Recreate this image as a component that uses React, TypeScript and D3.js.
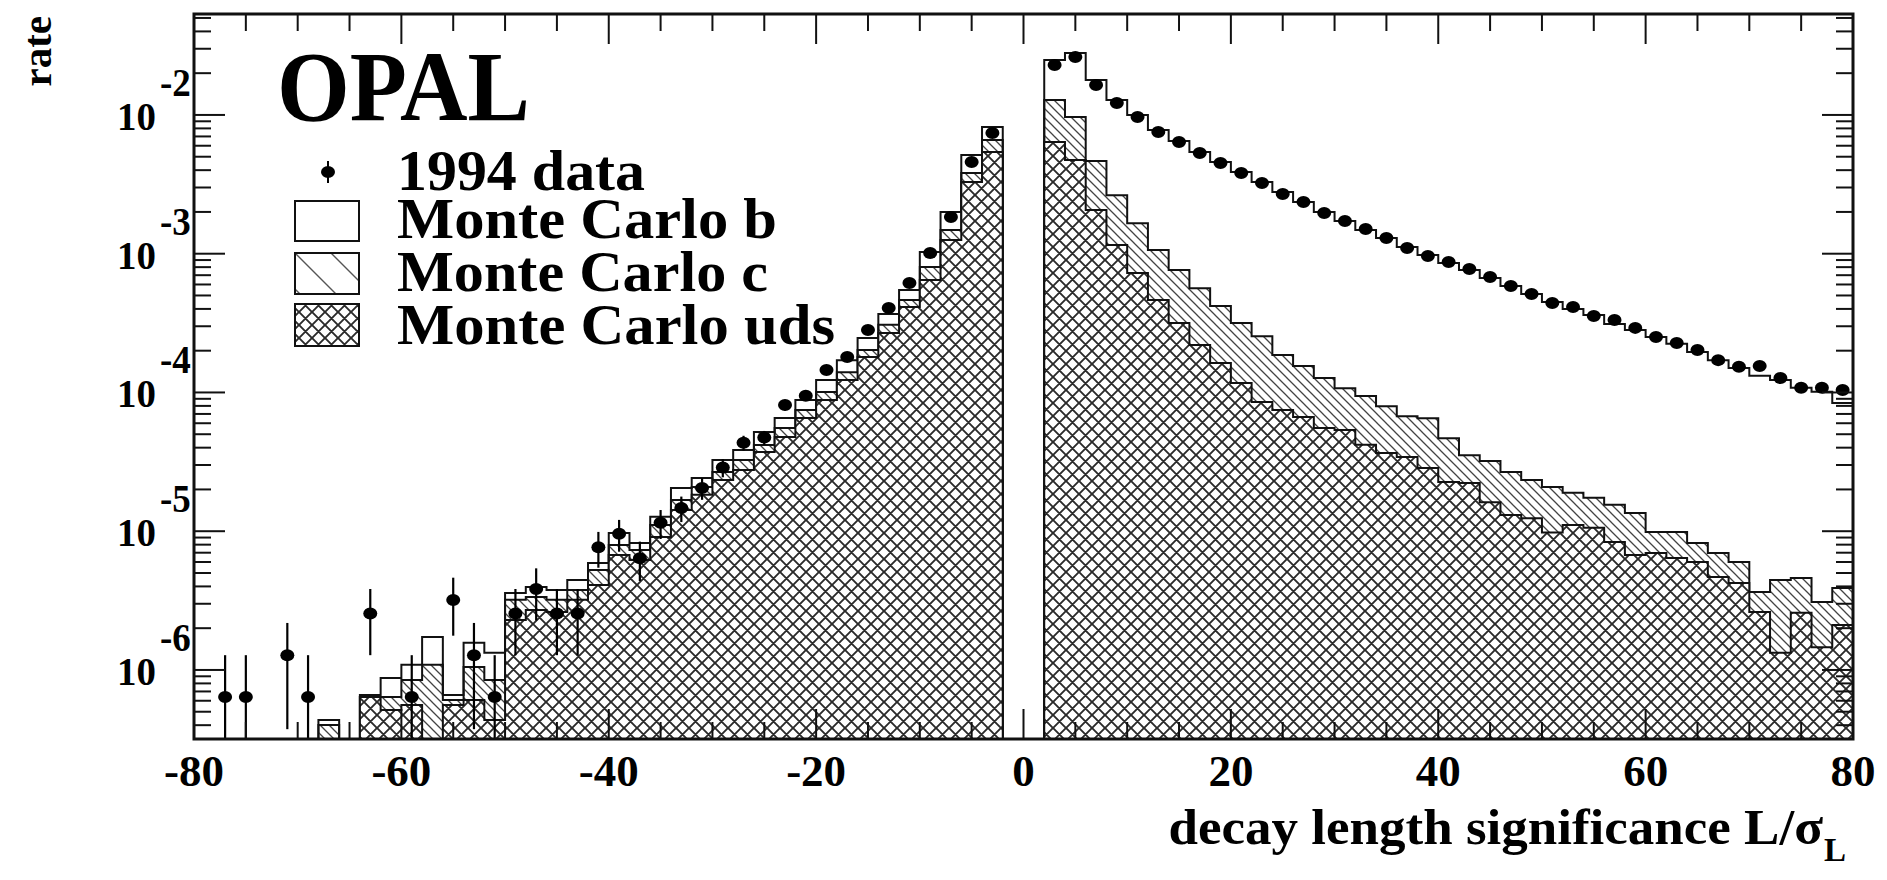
import React from "react";
import * as d3 from "d3";

// ---------- data (bin width 2, centres) ----------
const leftBins = [-79,-77,-75,-73,-71,-69,-67,-65,-63,-61,-59,-57,-55,-53,-51,-49,-47,-45,-43,-41,-39,-37,-35,-33,-31,-29,-27,-25,-23,-21,-19,-17,-15,-13,-11,-9,-7,-5,-3];
const rightBins = [3,5,7,9,11,13,15,17,19,21,23,25,27,29,31,33,35,37,39,41,43,45,47,49,51,53,55,57,59,61,63,65,67,69,71,73,75,77,79];

// 1994 data (rate)
const leftData = [0,6.39e-7,6.39e-7,0,1.278e-6,6.39e-7,0,0,2.556e-6,0,6.39e-7,0,3.195e-6,1.278e-6,6.39e-7,2.556e-6,3.834e-6,2.556e-6,2.556e-6,7.67e-6,9.59e-6,6.39e-6,1.15e-5,1.47e-5,2.045e-5,2.876e-5,4.345e-5,4.729e-5,8.115e-5,9.457e-5,1.4505e-4,1.802e-4,2.818e-4,4.058e-4,6.154e-4,1.0128e-3,1.84e-3,4.582e-3,7.412e-3];
const rightData = [0.02293,0.02618,0.01645,0.0122,0.009674,0.007542,0.00639,0.005322,0.00451,0.003819,0.003235,0.002695,0.00236,0.001966,0.001722,0.001508,0.001299,0.0011,0.000963,0.000872,0.000777,0.00068,0.000586,0.000513,0.000442,0.000413,0.000356,0.000333,0.000292,0.000251,0.000227,0.000202,0.000171,0.000153,0.000155,0.000127,0.000108,0.000108,0.000104];

// Monte Carlo b + c + uds (stacked total)
const leftTotal = [0,0,0,0,0,0,4.36e-7,0,6.6e-7,8.76e-7,1.09e-6,1.73e-6,6.6e-7,1.57e-6,1.33e-6,3.59e-6,3.96e-6,3.77e-6,4.45e-6,5.9e-6,9.71e-6,8.23e-6,1.27e-5,2.05e-5,2.42e-5,3.26e-5,3.85e-5,5.19e-5,6.55e-5,8.83e-5,1.23e-4,1.71e-4,2.47e-4,3.68e-4,5.48e-4,1.029e-3,1.999e-3,5.148e-3,8.193e-3];
const rightTotal = [0.0249,0.02797,0.01788,0.01283,0.01,0.007795,0.006496,0.005412,0.004585,0.003884,0.003291,0.002786,0.00236,0.001999,0.001722,0.001483,0.001299,0.001118,0.000979,0.000858,0.000764,0.000669,0.000586,0.000513,0.000449,0.0004,0.000362,0.000312,0.000282,0.000251,0.000224,0.000196,0.000171,0.00015,0.000132,0.000123,0.000108,0.000101,0.000084];

// Monte Carlo c + uds
const leftCUds = [0,0,0,0,0,0,4.01e-7,0,6.39e-7,6.39e-7,8.47e-7,1.09e-6,6.08e-7,1.05e-6,8.47e-7,3.2e-6,3.36e-6,3.2e-6,3.77e-6,5.26e-6,7.96e-6,7.33e-6,1.11e-5,1.68e-5,2.08e-5,2.67e-5,3.26e-5,4.18e-5,5.55e-5,7.48e-5,1.008e-4,1.4e-4,2.02e-4,3.07e-4,4.64e-4,8.02e-4,1.483e-3,3.819e-3,6.604e-3];
const rightCUds = [0.01283,0.009674,0.00465,0.00264,0.00166,0.001062,0.000762,0.000564,0.000419,0.000316,0.000254,0.000186,0.000155,0.000127,0.0001074,0.0000941,0.0000797,0.0000675,0.0000653,0.0000468,0.0000353,0.000032,0.0000267,0.0000234,0.0000208,0.0000189,0.0000174,0.0000155,0.0000135,9.88e-6,9.88e-6,8.23e-6,6.97e-6,6.0e-6,3.65e-6,4.45e-6,4.6e-6,3.09e-6,3.9e-6];

// Monte Carlo uds
const leftUds = [0,0,0,0,0,0,0,0,6.39e-7,5.15e-7,5.59e-7,0,5.59e-7,6.08e-7,4.36e-7,2.29e-6,2.71e-6,2.62e-6,3.2e-6,4.1e-6,6.74e-6,6.21e-6,9.09e-6,1.42e-5,1.83e-5,2.34e-5,2.76e-5,3.73e-5,4.78e-5,6.55e-5,8.83e-5,1.23e-4,1.8e-4,2.68e-4,4.13e-4,6.47e-4,1.256e-3,3.291e-3,5.412e-3];
const rightUds = [0.00639,0.004738,0.002066,0.001156,0.000726,0.000464,0.000316,0.00022,0.000163,0.000117,0.0000854,0.0000748,0.0000666,0.0000555,0.0000536,0.0000419,0.0000366,0.0000343,0.0000285,0.0000226,0.0000223,0.0000162,0.0000131,0.0000124,0.0000098,0.0000111,0.0000106,8.36e-6,6.74e-6,6.97e-6,6.41e-6,6.0e-6,4.68e-6,4.24e-6,2.62e-6,1.33e-6,2.58e-6,1.46e-6,2.11e-6];

// rate corresponding to a single event (for Poisson error bars)
const eventRate = 6.39e-7;

// axes
const xDomain = [-80, 80];
const yDomain = [3.18e-7, 0.0534];
const xMajorTicks = [-80, -60, -40, -20, 0, 20, 40, 60, 80];
const yMajorTicks = [1e-6, 1e-5, 1e-4, 1e-3, 1e-2];
const yExponents = ["-6", "-5", "-4", "-3", "-2"];

const legendLabels = ["1994 data", "Monte Carlo b", "Monte Carlo c", "Monte Carlo uds"];

const FONT = "'Liberation Serif', 'Times New Roman', 'DejaVu Serif', serif";

function Txt(props: any) {
  const { x, y, size, anchor = "start", sx = 1.1, children, rotate, sy = 1, len } = props;
  const tr = rotate
    ? `translate(${x},${y}) rotate(${rotate}) scale(1,${sx})`
    : `translate(${x},${y}) scale(${sx},${sy})`;
  return (
    <text
      transform={tr}
      fontFamily={FONT}
      fontWeight="bold"
      fontSize={size}
      textAnchor={anchor}
      fill="#000"
      {...(len ? { textLength: len, lengthAdjust: "spacingAndGlyphs" } : {})}
    >
      {children}
    </text>
  );
}

export default function App() {
  const L = 194, R = 1853, T = 14, B = 739;
  const x = d3.scaleLinear().domain(xDomain).range([L, R]);
  const y = d3.scaleLog().domain(yDomain).range([B, T]);

  const yy = (v: number) => (v > 0 ? Math.max(T, Math.min(B, y(v))) : B);

  const histPath = (bins: number[], vals: number[]) => {
    let d = `M${x(bins[0] - 1)},${B}`;
    bins.forEach((c, i) => {
      const h = yy(vals[i]);
      d += `L${x(c - 1)},${h}L${x(c + 1)},${h}`;
    });
    d += `L${x(bins[bins.length - 1] + 1)},${B}Z`;
    return d;
  };

  const xMinor = d3.range(-80, 80.01, 5).filter((v) => !xMajorTicks.includes(v));
  const yMinor: number[] = [];
  for (let e = -7; e <= -2; e++) for (let k = 2; k <= 9; k++) {
    const v = k * Math.pow(10, e);
    if (v > yDomain[0] && v < yDomain[1]) yMinor.push(v);
  }

  const points = [
    ...leftBins.map((c, i) => ({ c, v: leftData[i] })),
    ...rightBins.map((c, i) => ({ c, v: rightData[i] })),
  ].filter((p) => p.v > 0);

  const stroke = "#111";

  const sides = [
    { bins: leftBins, tot: leftTotal, cu: leftCUds, u: leftUds },
    { bins: rightBins, tot: rightTotal, cu: rightCUds, u: rightUds },
  ];

  return (
    <svg width={1887} height={880} style={{ position: "absolute", left: 0, top: 0, background: "#fff" }}>
      <defs>
        <pattern id="hatchC" patternUnits="userSpaceOnUse" width="9" height="9">
          <path d="M0,0L9,9M-2,7L2,11M7,-2L11,2" stroke="#444" strokeWidth="1.3" />
        </pattern>
        <pattern id="hatchX" patternUnits="userSpaceOnUse" width="13" height="13">
          <path d="M0,0L13,13M-3,10L3,16M10,-3L16,3M13,0L0,13M-3,3L3,-3M10,16L16,10" stroke="#2a2a2a" strokeWidth="1.9" />
        </pattern>
        <pattern id="hatchCLeg" patternUnits="userSpaceOnUse" width="36" height="36" x="295" y="253">
          <path d="M0,0L36,36M-6,30L6,42M30,-6L42,6" stroke="#555" strokeWidth="1.4" />
        </pattern>
        <clipPath id="plotClip">
          <rect x={L} y={T} width={R - L} height={B - T} />
        </clipPath>
      </defs>

      <rect x={0} y={0} width={1887} height={880} fill="#fff" />

      <g clipPath="url(#plotClip)">
        {sides.map((s, k) => (
          <g key={k}>
            <path d={histPath(s.bins, s.tot)} fill="#fff" stroke={stroke} strokeWidth={2} />
            <path d={histPath(s.bins, s.cu)} fill="url(#hatchC)" stroke={stroke} strokeWidth={2} />
            <path d={histPath(s.bins, s.u)} fill="#fff" stroke="none" />
            <path d={histPath(s.bins, s.u)} fill="url(#hatchX)" stroke={stroke} strokeWidth={2} />
          </g>
        ))}

        {points.map((p, i) => {
          const n = p.v / eventRate;
          const err = Math.sqrt(n) * eventRate;
          const y1 = yy(p.v + err);
          const y0 = p.v - err > yDomain[0] ? y(p.v - err) : B;
          return (
            <g key={i}>
              <line x1={x(p.c)} x2={x(p.c)} y1={y1} y2={y0} stroke="#000" strokeWidth={2.2} />
              <ellipse cx={x(p.c)} cy={y(p.v)} rx={7} ry={6} fill="#000" />
            </g>
          );
        })}
      </g>

      {/* frame */}
      <rect x={L} y={T} width={R - L} height={B - T} fill="none" stroke={stroke} strokeWidth={3} />

      {/* x ticks */}
      {xMajorTicks.map((v) => (
        <g key={"xM" + v}>
          <line x1={x(v)} x2={x(v)} y1={B} y2={B - 30} stroke={stroke} strokeWidth={2} />
          <line x1={x(v)} x2={x(v)} y1={T} y2={T + 30} stroke={stroke} strokeWidth={2} />
        </g>
      ))}
      {xMinor.map((v) => (
        <g key={"xm" + v}>
          <line x1={x(v)} x2={x(v)} y1={B} y2={B - 17} stroke={stroke} strokeWidth={2} />
          <line x1={x(v)} x2={x(v)} y1={T} y2={T + 17} stroke={stroke} strokeWidth={2} />
        </g>
      ))}
      {/* y ticks */}
      {yMajorTicks.map((v) => (
        <g key={"yM" + v}>
          <line x1={L} x2={L + 31} y1={y(v)} y2={y(v)} stroke={stroke} strokeWidth={2} />
          <line x1={R} x2={R - 31} y1={y(v)} y2={y(v)} stroke={stroke} strokeWidth={2} />
        </g>
      ))}
      {yMinor.map((v, i) => (
        <g key={"ym" + i}>
          <line x1={L} x2={L + 17} y1={y(v)} y2={y(v)} stroke={stroke} strokeWidth={2} />
          <line x1={R} x2={R - 17} y1={y(v)} y2={y(v)} stroke={stroke} strokeWidth={2} />
        </g>
      ))}

      {/* x tick labels */}
      {xMajorTicks.map((v) => (
        <Txt key={"xl" + v} x={x(v)} y={786} size={45} sx={1.0} anchor="middle">
          {String(v)}
        </Txt>
      ))}
      {/* y tick labels */}
      {yMajorTicks.map((v, i) => (
        <g key={"yl" + v}>
          <Txt x={156} y={y(v) + 15} size={41} sx={0.95} anchor="end">10</Txt>
          <Txt x={160} y={y(v) - 19} size={39} sx={0.95} anchor="start">{yExponents[i]}</Txt>
        </g>
      ))}

      {/* axis titles */}
      <Txt x={51} y={16} size={41} sx={1.0} anchor="end" rotate={-90}>rate</Txt>
      <Txt x={1823} y={844} size={50} sx={1.06} anchor="end">decay length significance L/σ</Txt>
      <Txt x={1824} y={861} size={33} sx={1.0} anchor="start">L</Txt>

      {/* OPAL */}
      <Txt x={277} y={120} size={100} anchor="start" sx={1} len={253}>OPAL</Txt>

      {/* legend */}
      <line x1={328} x2={328} y1={161} y2={183} stroke="#000" strokeWidth={2} />
      <ellipse cx={328} cy={172} rx={7} ry={6} fill="#000" />
      <rect x={295} y={201} width={64} height={40} fill="#fff" stroke={stroke} strokeWidth={2} />
      <rect x={295} y={253} width={64} height={41} fill="url(#hatchCLeg)" stroke={stroke} strokeWidth={2} />
      <rect x={295} y={304} width={64} height={42} fill="url(#hatchX)" stroke={stroke} strokeWidth={2} />
      <Txt x={397} y={190} size={56} len={248} sx={1}>{legendLabels[0]}</Txt>
      <Txt x={397} y={238} size={56} len={380} sx={1}>{legendLabels[1]}</Txt>
      <Txt x={397} y={291} size={56} len={371} sx={1}>{legendLabels[2]}</Txt>
      <Txt x={397} y={344} size={56} len={438} sx={1}>{legendLabels[3]}</Txt>
    </svg>
  );
}
